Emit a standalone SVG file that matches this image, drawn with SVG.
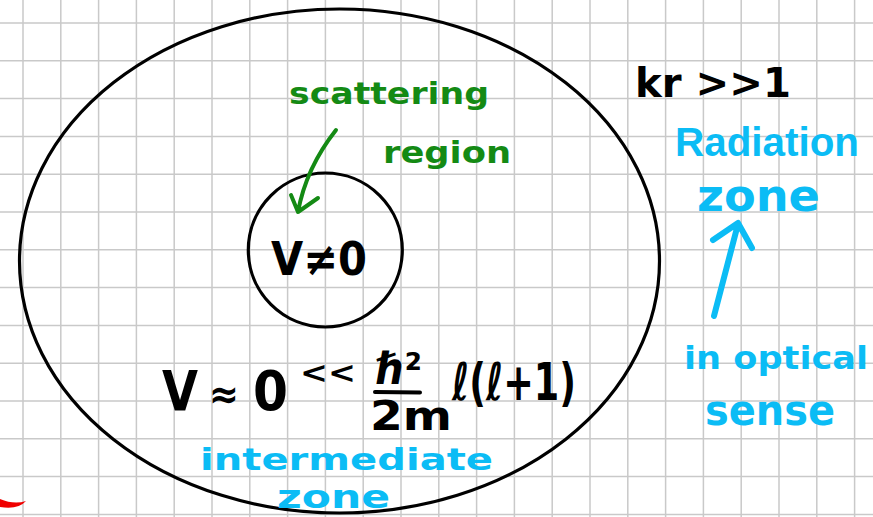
<svg xmlns="http://www.w3.org/2000/svg" width="873" height="517" viewBox="0 0 873 517">
<style>
.grid{stroke:#c9c9c9;stroke-width:1.5;fill:none}
.ink{fill:none;stroke:#000;stroke-width:3.2}
.t{font-family:"DejaVu Sans",sans-serif;font-weight:bold}
.blk{fill:#000}
.grn{fill:#148a14}
.blu{fill:#0bbcf5}
.garrow{fill:none;stroke:#148a14;stroke-width:4;stroke-linecap:round;stroke-linejoin:round}
.barrow{fill:none;stroke:#0bbcf5;stroke-width:6;stroke-linecap:round;stroke-linejoin:round}
</style>
<rect width="873" height="517" fill="#fff"/>
<g id="grid">
<path class="grid" d="M23,0V517M60.8,0V517M98.6,0V517M136.4,0V517M174.2,0V517M212,0V517M249.8,0V517M287.6,0V517M325.4,0V517M363.2,0V517M401,0V517M438.8,0V517M476.6,0V517M514.4,0V517M552.2,0V517M590,0V517M627.8,0V517M665.6,0V517M703.4,0V517M741.2,0V517M779,0V517M816.8,0V517M854.6,0V517
M0,23H873M0,60.8H873M0,98.6H873M0,136.4H873M0,174.2H873M0,212H873M0,249.8H873M0,287.6H873M0,325.4H873M0,363.2H873M0,401H873M0,438.8H873M0,476.6H873M0,514.4H873"/>
</g>
<g id="outer-region">
<ellipse class="ink" cx="339.5" cy="261" rx="320" ry="252"/>
</g>
<g id="inner-region">
<circle class="ink" cx="325.3" cy="250" r="77" stroke-width="2.8"/>
<text class="t blk" x="271" y="275" font-size="46" textLength="96" lengthAdjust="spacingAndGlyphs">V≠0</text>
</g>
<g id="scattering-label">
<text class="t grn" x="289" y="104" font-size="30" font-weight="normal" textLength="200" lengthAdjust="spacingAndGlyphs">scattering</text>
<text class="t grn" x="383" y="163" font-size="30" font-weight="normal" textLength="128" lengthAdjust="spacingAndGlyphs">region</text>
</g>
<g id="condition">
<text class="t blk" x="635" y="97" font-size="40" textLength="156" lengthAdjust="spacingAndGlyphs">kr &gt;&gt;1</text>
</g>
<g id="radiation-label">
<text class="blu" x="675" y="156" font-family="'Liberation Sans',Arial,sans-serif" font-weight="bold" font-size="40" textLength="184" lengthAdjust="spacingAndGlyphs">Radiation</text>
<text class="t blu" x="697" y="211" font-size="44" textLength="123" lengthAdjust="spacingAndGlyphs">zone</text>
</g>
<g id="optical-label">
<text class="t blu" x="684" y="369" font-size="32" textLength="184" lengthAdjust="spacingAndGlyphs">in optical</text>
<text class="t blu" x="705" y="425" font-size="42" textLength="130" lengthAdjust="spacingAndGlyphs">sense</text>
</g>
<g id="formula">
<text class="t blk" x="162" y="410" font-size="56" textLength="36" lengthAdjust="spacingAndGlyphs">V</text>
<text class="t blk" x="209" y="408" font-size="40" textLength="30" lengthAdjust="spacingAndGlyphs">≈</text>
<text class="t blk" x="253" y="410" font-size="56" textLength="35" lengthAdjust="spacingAndGlyphs">0</text>
<text class="t blk" x="300" y="383" font-size="30" textLength="56" lengthAdjust="spacingAndGlyphs">&lt;&lt;</text>
<text class="t blk" x="376" y="384" font-size="44" textLength="46" lengthAdjust="spacingAndGlyphs">ℏ²</text>
<line x1="375" y1="392" x2="420" y2="392.5" stroke="#000" stroke-width="4" stroke-linecap="round"/>
<text class="t blk" x="370" y="430" font-size="40" textLength="82" lengthAdjust="spacingAndGlyphs">2m</text>
<text class="t blk" x="452" y="400" font-size="52" textLength="124" lengthAdjust="spacingAndGlyphs">ℓ(ℓ+1)</text>
</g>
<g id="intermediate-label">
<text class="t blu" x="200" y="470" font-size="30" textLength="293" lengthAdjust="spacingAndGlyphs">intermediate</text>
<text class="t blu" x="277" y="508" font-size="32" textLength="113" lengthAdjust="spacingAndGlyphs">zone</text>
</g>
<g id="connectors">
<path class="garrow" d="M336,130 Q306,168 298,212 M291,195 L298,212 L318,198"/>
<path class="barrow" d="M714,316 Q728,262 738,224 M713,240 L738,223 L752,248"/>
</g>
<g id="red-mark">
<path d="M0,499 Q14,505 26,501 Q18,510 0,507 Z" fill="#f00000"/>
</g>
</svg>
